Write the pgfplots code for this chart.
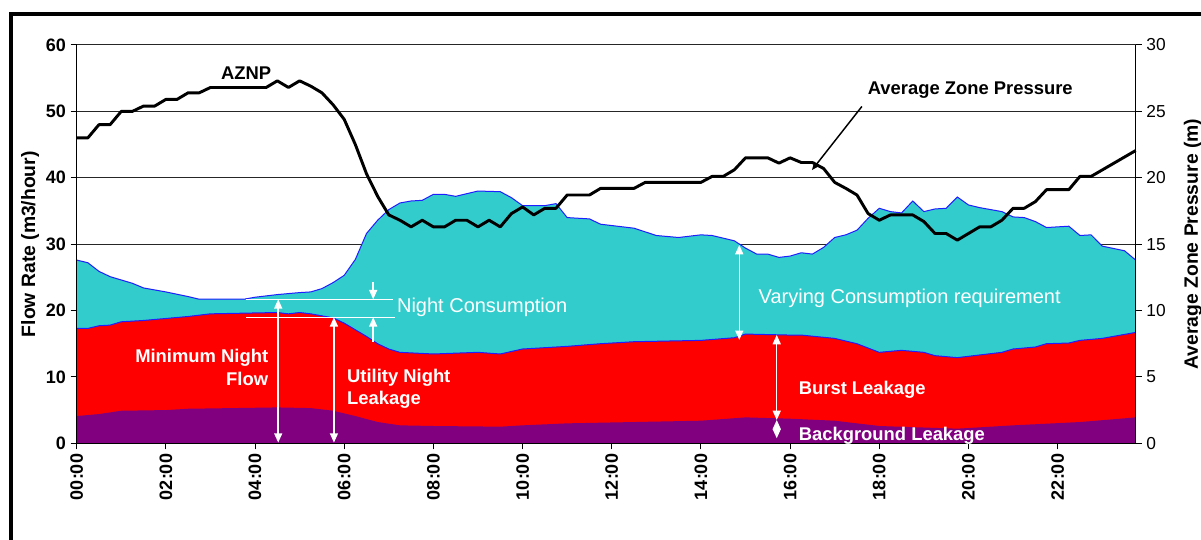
\documentclass[border=0pt]{standalone}
\usepackage{fontspec}
\setmainfont{Liberation Sans}
\usepackage{pgfplots}
\pgfplotsset{compat=1.18}
\usepackage{pgfplotstable}
\usetikzlibrary{arrows.meta}

\definecolor{consum}{HTML}{33CCCC}
\definecolor{burst}{HTML}{FF0000}
\definecolor{backgr}{HTML}{800080}
\definecolor{edge}{HTML}{1E1EFF}

% total flow (top of the cyan area), m3/hour
\pgfplotstableread{
h v
0 27.6
0.25 27.2
0.5 25.9
0.75 25.1
1.25 24.1
1.5 23.4
2.0 22.8
2.5 22.1
2.75 21.7
3.75 21.7
4.0 22.0
4.5 22.4
5.0 22.7
5.25 22.8
5.5 23.3
5.75 24.2
6.0 25.3
6.25 27.7
6.5 31.6
6.75 33.6
7.0 35.2
7.25 36.2
7.5 36.5
7.75 36.6
8.0 37.5
8.25 37.5
8.5 37.2
9.0 38.0
9.5 37.9
9.75 37.0
10.0 35.8
10.5 35.8
10.75 36.1
11.0 34.0
11.5 33.8
11.75 33.0
12.5 32.4
13.0 31.3
13.5 31.0
14.0 31.4
14.25 31.3
14.75 30.5
15.0 29.4
15.25 28.5
15.5 28.5
15.75 28.0
16.0 28.2
16.25 28.7
16.5 28.5
16.75 29.5
17.0 31.0
17.25 31.4
17.5 32.1
17.75 33.9
18.0 35.4
18.25 34.9
18.5 34.7
18.75 36.5
19.0 34.9
19.25 35.3
19.5 35.4
19.75 37.1
20.0 35.9
20.25 35.5
20.75 34.9
21.0 34.1
21.25 34.0
21.5 33.4
21.75 32.5
22.25 32.7
22.5 31.3
22.75 31.4
23.0 29.7
23.5 29.0
23.75 27.6
}\total

% burst + background leakage (top of the red area)
\pgfplotstableread{
h v
0 17.3
0.25 17.3
0.5 17.7
0.75 17.8
1.0 18.3
1.5 18.5
2.0 18.8
2.5 19.1
3.0 19.5
4.5 19.7
4.75 19.5
5.0 19.7
5.25 19.5
5.75 18.9
6.0 18.1
6.25 17.1
6.5 16.1
6.75 15.0
7.0 14.2
7.25 13.7
8.0 13.45
9.0 13.7
9.5 13.45
10.0 14.2
11.0 14.6
11.75 15.0
12.5 15.3
14.0 15.5
14.75 15.9
15.0 16.45
16.0 16.3
16.25 16.3
17.0 15.8
17.5 15.0
18.0 13.7
18.5 14.0
19.0 13.7
19.25 13.2
19.75 12.9
20.25 13.3
20.75 13.7
21.0 14.2
21.5 14.5
21.75 15.0
22.25 15.1
22.5 15.5
23.0 15.8
23.75 16.7
}\burstlk

% background leakage
\pgfplotstableread{
h v
0 4.1
0.5 4.4
1.0 4.9
2.0 5.0
2.5 5.2
4.5 5.4
5.25 5.3
5.75 4.9
6.25 4.1
6.75 3.2
7.25 2.7
8.0 2.6
9.5 2.5
10.0 2.7
11.0 3.0
12.5 3.2
14.0 3.4
15.0 3.9
16.0 3.7
17.0 3.4
18.0 2.6
19.75 2.2
21.0 2.7
22.5 3.2
23.75 3.9
}\backlk

% average zone night pressure, m
\pgfplotstableread{
h p
0 23.0
0.25 23.0
0.5 24.0
0.75 24.0
1.0 25.0
1.25 25.0
1.5 25.4
1.75 25.4
2.0 25.9
2.25 25.9
2.5 26.4
2.75 26.4
3.0 26.8
4.25 26.8
4.5 27.3
4.75 26.8
5.0 27.3
5.25 26.9
5.5 26.4
5.75 25.5
6.0 24.4
6.25 22.5
6.5 20.3
6.75 18.6
7.0 17.2
7.25 16.8
7.5 16.3
7.75 16.8
8.0 16.3
8.25 16.3
8.5 16.8
8.75 16.8
9.0 16.3
9.25 16.8
9.5 16.3
9.75 17.3
10.0 17.8
10.25 17.2
10.5 17.7
10.75 17.7
11.0 18.7
11.5 18.7
11.75 19.2
12.5 19.2
12.75 19.65
14.0 19.65
14.25 20.1
14.5 20.1
14.75 20.6
15.0 21.5
15.5 21.5
15.75 21.1
16.0 21.5
16.25 21.15
16.5 21.15
16.75 20.7
17.0 19.65
17.25 19.2
17.5 18.7
17.75 17.3
18.0 16.8
18.25 17.2
18.75 17.2
19.0 16.7
19.25 15.8
19.5 15.8
19.75 15.3
20.0 15.8
20.25 16.3
20.5 16.3
20.75 16.8
21.0 17.7
21.25 17.7
21.5 18.2
21.75 19.1
22.25 19.1
22.5 20.1
22.75 20.1
23.75 22.05
}\aznp

\tikzset{
  dbl/.style={white, line width=1.1pt, {Triangle[length=7pt,width=6pt]}-{Triangle[length=7pt,width=6pt]}},
  sgl/.style={white, line width=1.1pt, -{Triangle[length=7pt,width=6pt]}},
  wlab/.style={white, inner sep=0pt, font=\fontsize{13.8}{17}\selectfont\bfseries},
  wthin/.style={white, inner sep=0pt, font=\fontsize{15}{18}\selectfont},
}

\begin{document}
\begin{tikzpicture}
\begin{axis}[
    at={(57.5pt,71.8pt)}, anchor=south west,
    width=794.25pt, height=298.7pt, scale only axis,
    xmin=0, xmax=23.75, ymin=0, ymax=60,
    axis x line*=bottom, axis y line*=left,
    axis line style={-, black, line width=0.75pt},
    xtick={0,2,...,22},
    xticklabels={00:00,02:00,04:00,06:00,08:00,10:00,12:00,14:00,16:00,18:00,20:00,22:00},
    x tick label style={rotate=90, anchor=east, font=\fontsize{13.5}{16}\selectfont\bfseries},
    ytick={0,10,20,30,40,60},
    extra y ticks={50},
    extra y tick style={grid style={gray!55, line width=0.75pt}},
    y tick label style={font=\fontsize{13.5}{16}\selectfont\bfseries},
    /pgf/number format/assume math mode=true,
    tick align=outside, major tick length=4.5pt,
    tick style={black, line width=0.75pt},
    ymajorgrids, major grid style={black!85, line width=0.75pt},
    ylabel={Flow Rate (m3/hour)},
    ylabel style={at={(axis description cs:-0.044,0.5)}, anchor=center,
                  font=\fontsize{14.5}{17}\selectfont\bfseries},
    clip=false,
]
\addplot[fill=consum, draw=none] table[x=h, y=v] {\total} \closedcycle;
\addplot[edge, line width=0.75pt] table[x=h, y=v] {\total};
\addplot[fill=burst, draw=none] table[x=h, y=v] {\burstlk} \closedcycle;
\addplot[edge, line width=0.75pt] table[x=h, y=v] {\burstlk};
\addplot[fill=backgr, draw=none] table[x=h, y=v] {\backlk} \closedcycle;

\draw[black, line width=0.75pt] (rel axis cs:0,1) -- (rel axis cs:0,0) -- (rel axis cs:1,0);

% night flow markers
\draw[white, line width=1.1pt] (axis cs:3.80,21.69) -- (axis cs:7.09,21.69);
\draw[white, line width=1.1pt] (axis cs:3.80,18.98) -- (axis cs:7.13,18.98);
\draw[dbl] (axis cs:4.52,0.1) -- (axis cs:4.52,21.69);
\draw[dbl] (axis cs:5.77,0.1) -- (axis cs:5.77,18.98);
\draw[sgl] (axis cs:6.65,24.3) -- (axis cs:6.65,21.69);
\draw[sgl] (axis cs:6.65,15.3) -- (axis cs:6.65,18.98);
\draw[dbl] (axis cs:14.86,29.87) -- (axis cs:14.86,15.58);
\draw[dbl] (axis cs:15.70,16.32) -- (axis cs:15.70,3.51);
\draw[dbl] (axis cs:15.70,3.51) -- (axis cs:15.70,0.75);

\node[wthin, anchor=west] at (axis cs:7.18,20.49) {Night Consumption};
\node[wlab, anchor=east, align=right] at (axis cs:4.30,11.39) {Minimum Night\\Flow};
\node[wlab, anchor=west, align=left] at (axis cs:6.06,8.21) {Utility Night\\Leakage};
\node[wthin, anchor=west] at (axis cs:15.29,21.84) {Varying Consumption requirement};
\node[wlab, anchor=west] at (axis cs:16.19,8.03) {Burst Leakage};
\node[wlab, anchor=west] at (axis cs:16.19,1.10) {Background Leakage};
\end{axis}

\begin{axis}[
    at={(57.5pt,71.8pt)}, anchor=south west,
    width=794.25pt, height=298.7pt, scale only axis,
    xmin=0, xmax=23.75, ymin=0, ymax=30,
    axis x line=none, axis y line*=right,
    axis line style={-, black, line width=0.75pt},
    ytick={0,5,...,30},
    /pgf/number format/assume math mode=true,
    y tick label style={font=\fontsize{13}{16}\selectfont},
    tick align=outside, major tick length=4.5pt,
    tick style={black, line width=0.75pt},
    ylabel={Average Zone Pressure (m)},
    ylabel style={at={(axis description cs:1.054,0.5)}, anchor=center,
                  font=\fontsize{14.5}{17}\selectfont\bfseries},
    clip=false,
]
\addplot[black, line width=2.2pt, line join=round] table[x=h, y=p] {\aznp};
\node[font=\fontsize{13.8}{17}\selectfont\bfseries, inner sep=0pt] at (axis cs:3.80,27.9) {AZNP};
\node[font=\fontsize{13.8}{17}\selectfont\bfseries, inner sep=0pt] at (axis cs:20.04,26.6) {Average Zone Pressure};
\draw[black, line width=1.1pt, -{Stealth[length=6pt,width=5pt]}] (axis cs:17.61,25.37) -- (axis cs:16.49,20.58);
\end{axis}

\draw[black, line width=3pt] (8.1pt,-10pt) -- (8.1pt,394pt) -- (920pt,394pt);
\pgfresetboundingbox
\useasboundingbox (0,0) rectangle (900.75pt,404.25pt);
\end{tikzpicture}
\end{document}
